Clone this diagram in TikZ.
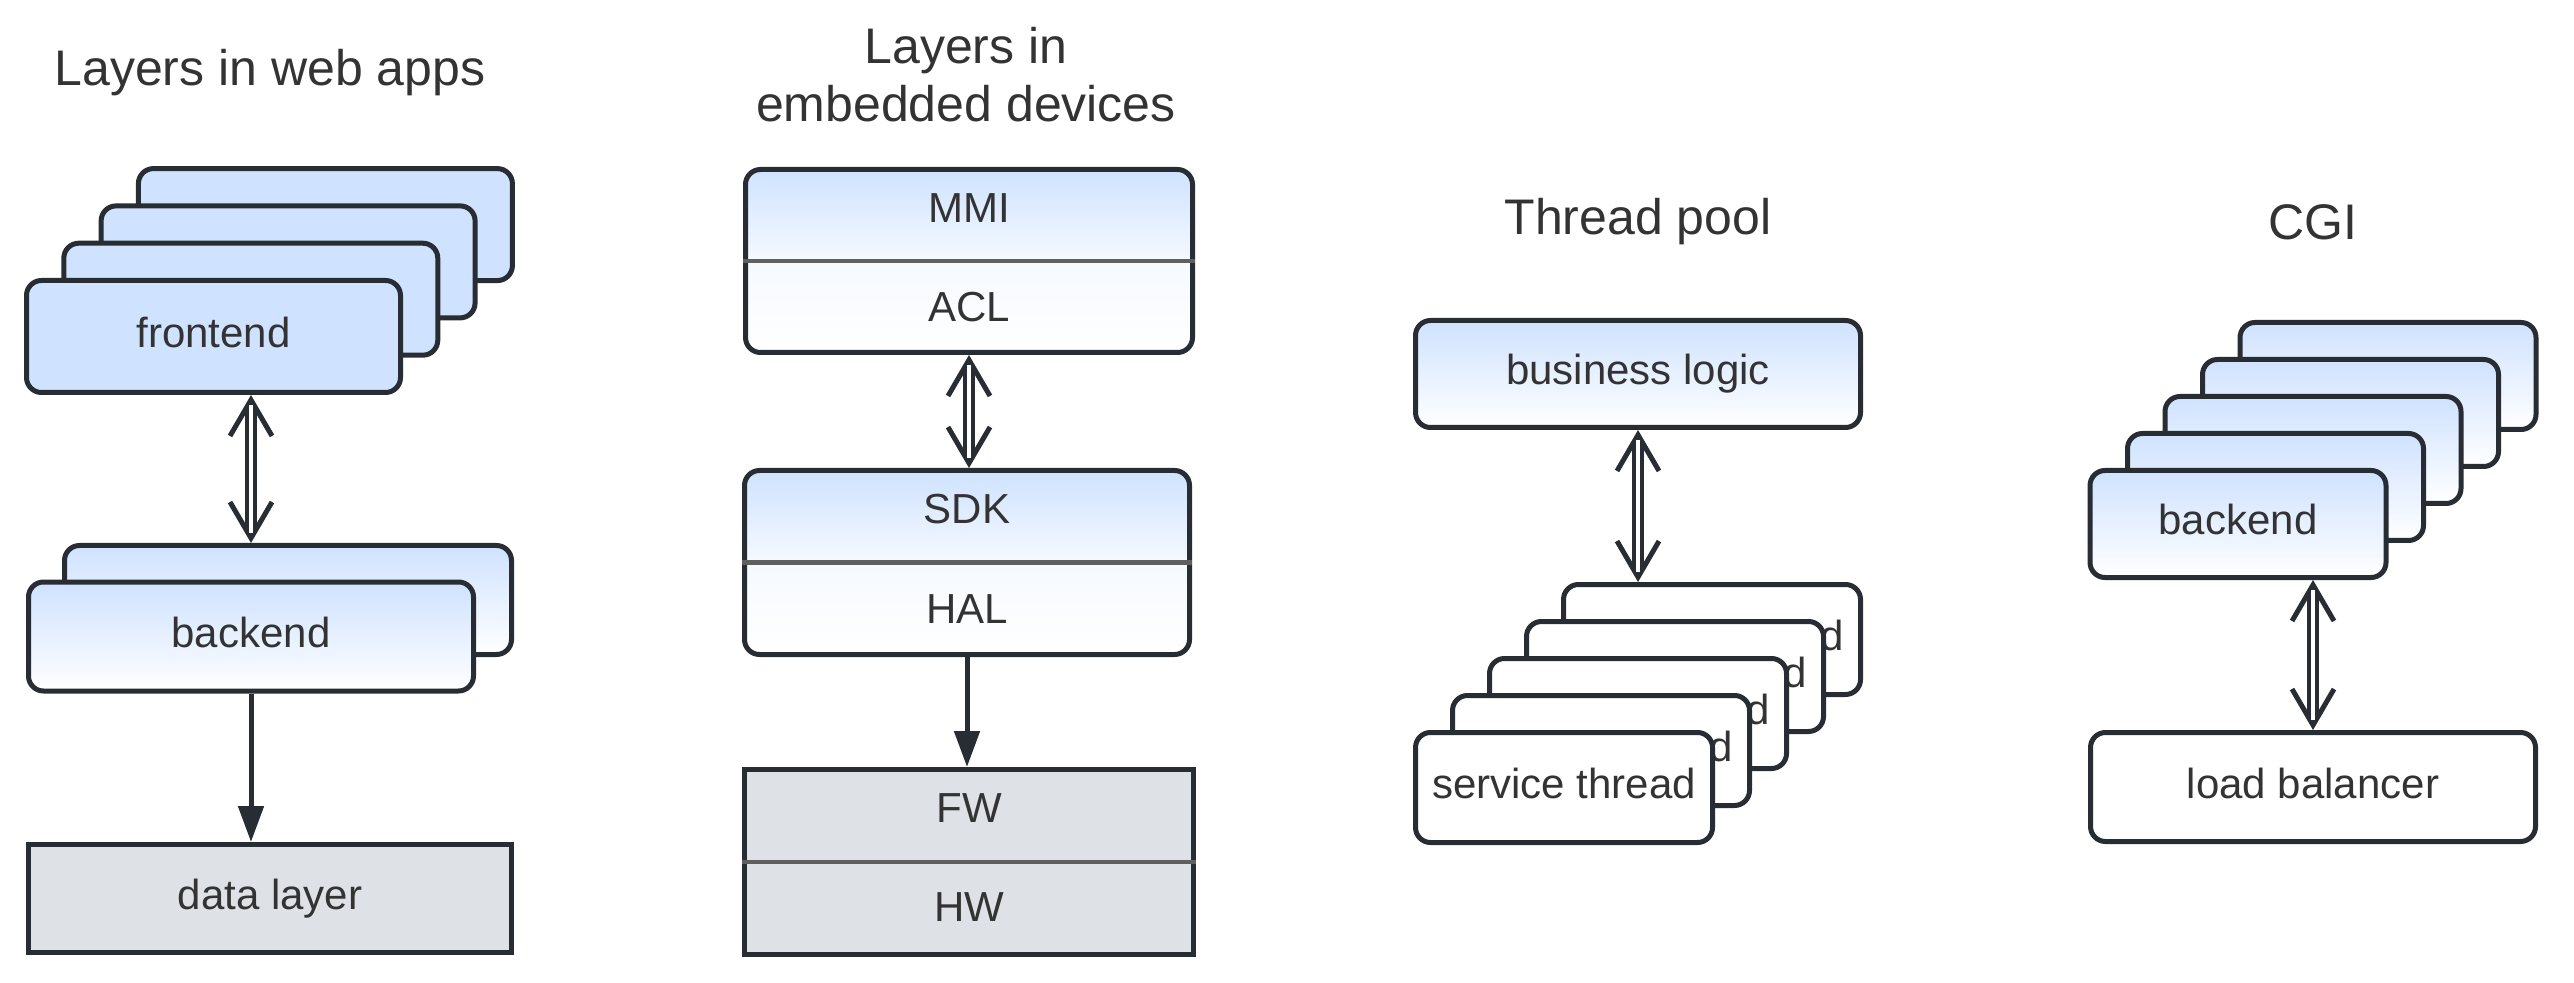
\documentclass[tikz,border=0pt]{standalone}
\usepackage{fontspec}
\setmainfont{Liberation Sans}
\usetikzlibrary{arrows.meta}
\definecolor{ink}{HTML}{282C33}
\definecolor{txt}{HTML}{333333}
\definecolor{layerblue}{HTML}{CFE2FF}
\definecolor{layergray}{HTML}{DEE1E6}
\definecolor{sepgray}{HTML}{5F5F5F}
\tikzset{
  layer/.style={draw=ink, line width=2.5pt, rounded corners=7.5pt, inner sep=0pt},
  flat/.style={draw=ink, line width=2.5pt, inner sep=0pt, fill=layergray},
  wh/.style 2 args={minimum width={(#1-5)*0.5pt}, minimum height={(#2-5)*0.5pt}},
  shade/.style={top color=layerblue, bottom color=white},
  split/.style={top color=layerblue, bottom color=white, middle color=white!80!layerblue},
  lbl/.style={text=txt, font=\fontsize{21}{24}\selectfont, inner sep=0pt},
  inbox/.style={lbl, text height=15pt, text depth=4pt},
  title/.style={text=txt, font=\fontsize{25}{29}\selectfont, align=center},
  sep/.style={draw=sepgray, line width=2pt},
  link/.style={draw=ink, line width=2.5pt},
  % double connector: barbs underneath, hollow shaft on top
  barbs/.style={draw=ink, line width=2.5pt,
    {Straight Barb[length=18pt,width=21pt]}-{Straight Barb[length=18pt,width=21pt]}},
  shaft/.style={draw=ink, line width=2pt, double=white, double distance=2pt,
    shorten <=5pt, shorten >=5pt}
}

\begin{document}
\begin{tikzpicture}[x=0.5pt, y=-0.5pt, >={Triangle[length=18pt,width=12.5pt]}]
\useasboundingbox (0,0) rectangle (2574,983);

% layers in web apps
\node[title] (webtitle) at (270,73) {Layers in web apps};
\foreach \k in {3,2,1} {
  \node[layer, fill=layerblue, wh={379}{117}] (fe\k) at (213.5+37.3*\k, 336.5-37.3*\k) {};
}
\node[layer, fill=layerblue, wh={379}{117}, inbox] (fe0) at (213.5,336.5) {frontend};
\node[layer, shade, wh={452}{114}] (be1) at (288,600) {};
\node[layer, shade, wh={450}{114}, inbox] (be0) at (251,636.5) {backend};
\node[flat, wh={488}{113}, inbox] (data) at (270,898.5) {data layer};
\draw[barbs] (fe0.south -| be0.north) -- (be1.north -| be0.north);
\draw[shaft] (fe0.south -| be0.north) -- (be1.north -| be0.north);
\draw[link,->] (be0.south) -- (be0.south |- data.north);

% layers in embedded devices
\node[title] (embtitle) at (966,75) {Layers in\\embedded devices};
\node[layer, split, wh={452}{188}] (app) at (969,261) {};
\draw[sep] (app.west) -- (app.east);
\node[lbl] (mmi) at (969,208) {MMI};
\node[lbl] (acl) at (969,307) {ACL};
\node[layer, split, wh={450}{189}] (sdk) at (967,562.5) {};
\draw[sep] (sdk.west) -- (sdk.east);
\node[lbl] (sdktext) at (967,509) {SDK};
\node[lbl] (hal) at (967,609) {HAL};
\node[flat, wh={454}{190}] (hw) at (969,862) {};
\draw[sep] (hw.west) -- (hw.east);
\node[lbl] (fw) at (969,808) {FW};
\node[lbl] (hwtext) at (969,907) {HW};
\draw[barbs] (app.south) -- (app.south |- sdk.north);
\draw[shaft] (app.south) -- (app.south |- sdk.north);
\draw[link,->] (sdk.south) -- (sdk.south |- hw.north);

% thread pool
\node[title] (pooltitle) at (1638,222) {Thread pool};
\node[layer, shade, wh={450}{112}, inbox] (logic) at (1638,374) {business logic};
\foreach \k in {4,3,2,1,0} {
  \node[layer, fill=white, wh={302}{115}, inbox] (st\k) at (1564+37*\k, 787.5-37*\k) {service thread};
}
\draw[barbs] (logic.south) -- (logic.south |- st4.north);
\draw[shaft] (logic.south) -- (logic.south |- st4.north);

% CGI
\node[title] (cgititle) at (2313,222) {CGI};
\foreach \k in {4,3,2,1} {
  \node[layer, shade, wh={301}{112}] (cg\k) at (2238+37.5*\k, 524-37*\k) {};
}
\node[layer, shade, wh={301}{112}, inbox] (cg0) at (2238,524) {backend};
\node[layer, fill=white, wh={450}{114}, inbox] (lb) at (2313,787) {load balancer};
\draw[barbs] (lb.north |- cg0.south) -- (lb.north);
\draw[shaft] (lb.north |- cg0.south) -- (lb.north);
\end{tikzpicture}
\end{document}
